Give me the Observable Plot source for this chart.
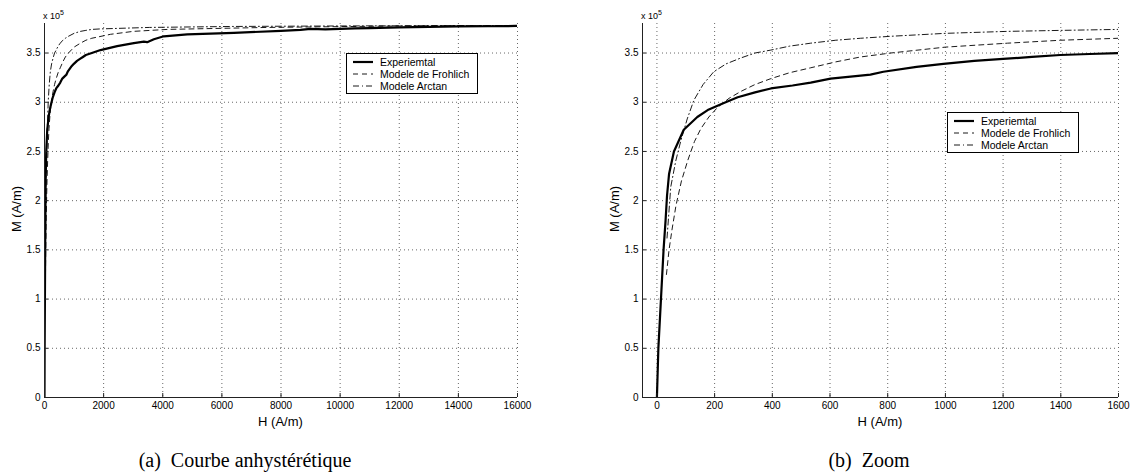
<!DOCTYPE html>
<html>
<head>
<meta charset="utf-8">
<script src="https://cdn.jsdelivr.net/npm/d3@7"></script>
<script src="https://cdn.jsdelivr.net/npm/@observablehq/plot@0.6"></script>
<style>
  body { margin: 0; background: #fff; }
  #wrap { position: relative; width: 1130px; height: 475px; background: #fff; font-family: "Liberation Sans", Arial, sans-serif; color: #000; }
  .abs { position: absolute; white-space: nowrap; }
  .ylab { font-size: 13px; transform: translate(-50%, -50%) rotate(-90deg); }
  .xlab { font-size: 13px; transform: translate(-50%, -50%); }
  .mult { font-size: 9px; }
  .mult sup { font-size: 7px; vertical-align: 4px; }
  .cap { font-family: "Liberation Serif", "Times New Roman", serif; font-size: 20px; transform: translateX(-50%); }
  .legend { border: 1px solid #000; background: #fff; box-sizing: border-box; font-size: 10.5px; padding-top: 2px; }
  .legend .row { display: flex; align-items: center; height: 12px; }
  .legend svg { margin-left: 6px; margin-right: 7px; }
</style>
</head>
<body>
<div id="wrap">
  <div id="pa" class="abs" style="left:0;top:0"></div>
  <div id="pb" class="abs" style="left:565px;top:0"></div>
</div>
<script>
// ---- Data (M in units of 1e5 A/m, H in A/m) ----
const expH = [0, 5, 14, 23, 30, 35, 42, 59, 93, 140, 176, 230, 280, 340, 395, 470, 533, 602, 706, 740, 785, 900, 993, 1100, 1200, 1300, 1398, 1500, 1600, 1895, 2458, 3022, 3360, 3473, 3700, 4036, 4827, 6405, 8000, 8660, 9000, 9500, 10000, 10500, 11000, 12000, 13000, 14000, 15000, 16000];
const expM = [0, 0.5, 1.0, 1.5, 1.8, 2.05, 2.27, 2.5, 2.72, 2.85, 2.92, 2.99, 3.05, 3.10, 3.14, 3.17, 3.20, 3.24, 3.27, 3.28, 3.31, 3.36, 3.39, 3.42, 3.44, 3.46, 3.48, 3.49, 3.50, 3.53, 3.57, 3.60, 3.615, 3.61, 3.64, 3.67, 3.69, 3.705, 3.725, 3.735, 3.745, 3.74, 3.745, 3.75, 3.752, 3.76, 3.765, 3.77, 3.772, 3.775];

const frohH = [33, 42, 52, 66, 85, 107, 130, 152, 180, 211, 250, 291, 340, 395, 460, 533, 620, 706, 810, 1000, 1215, 1400, 1600, 2230, 3000, 4160, 7530, 12000, 16000];
const frohM = [1.25, 1.5, 1.7, 1.95, 2.2, 2.41, 2.6, 2.73, 2.85, 2.95, 3.04, 3.11, 3.18, 3.24, 3.30, 3.35, 3.41, 3.46, 3.50, 3.56, 3.60, 3.63, 3.65, 3.69, 3.72, 3.74, 3.76, 3.775, 3.78];

const atanH = [35, 48, 65, 83, 105, 128, 160, 197, 240, 291, 340, 395, 460, 533, 620, 706, 810, 1000, 1215, 1400, 1600, 1890, 3550, 6370, 10000, 16000];
const atanM = [1.62, 2.14, 2.4, 2.61, 2.83, 3.02, 3.18, 3.31, 3.39, 3.45, 3.50, 3.53, 3.57, 3.60, 3.63, 3.65, 3.67, 3.70, 3.72, 3.73, 3.74, 3.745, 3.76, 3.77, 3.775, 3.78];

const yTicks = [0, 0.5, 1, 1.5, 2, 2.5, 3, 3.5];
const yDomain = [0, 3.8];
const xTicksA = [0, 2000, 4000, 6000, 8000, 10000, 12000, 14000, 16000];
const xDomainA = [0, 16000];
const xTicksB = [0, 200, 400, 600, 800, 1000, 1200, 1400, 1600];
const xDomainB = [-50, 1600];

const seriesNames = ["Experiemtal", "Modele de Frohlich", "Modele Arctan"];
const axisLabelX = "H (A/m)";
const axisLabelY = "M (A/m)";
const captions = ["(a)\u00a0 Courbe anhystérétique", "(b)\u00a0 Zoom"];

const rows = (hs, ms) => hs.map((h, i) => ({H: h, M: ms[i]}));
const expData = rows(expH, expM);
const frohData = rows(frohH, frohM);
const atanData = rows(atanH, atanM);

const styles = [
  {stroke: "#000", strokeWidth: 2.2, strokeDasharray: null},
  {stroke: "#000", strokeWidth: 0.9, strokeDasharray: "5,4"},
  {stroke: "#000", strokeWidth: 0.9, strokeDasharray: "6,3,1,3"}
];

function panel(xDomain, xTicks, mLeft, mRight) {
  const W = 565, H = 430, mTop = 23, mBottom = 33;
  const innerW = W - mLeft - mRight, innerH = H - mTop - mBottom;
  const gridStyle = {stroke: "#000", strokeOpacity: 0.75, strokeWidth: 0.8, strokeDasharray: "1,3"};
  return Plot.plot({
    width: W, height: H,
    marginLeft: mLeft, marginRight: mRight, marginTop: mTop, marginBottom: mBottom,
    style: {fontFamily: "Liberation Sans, Arial, sans-serif", fontSize: "10px", background: "transparent", overflow: "visible"},
    x: {domain: xDomain},
    y: {domain: yDomain},
    marks: [
      Plot.gridX(xTicks, gridStyle),
      Plot.gridY(yTicks, gridStyle),
      Plot.line(frohData, {x: "H", y: "M", ...styles[1], clip: true}),
      Plot.line(atanData, {x: "H", y: "M", ...styles[2], clip: true}),
      Plot.line(expData, {x: "H", y: "M", ...styles[0], strokeLinejoin: "round", clip: true}),
      Plot.ruleY([yDomain[0]], {stroke: "#222", strokeWidth: 1}),
      Plot.ruleX([xDomain[0]], {stroke: "#222", strokeWidth: 1}),
      Plot.tickX(xTicks, {x: d => d, insetTop: innerH - 4, stroke: "#222"}),
      Plot.tickY(yTicks, {y: d => d, insetRight: innerW - 4, stroke: "#222"}),
      Plot.axisX({ticks: xTicks, tickSize: 0, tickPadding: 4, label: null, tickFormat: d3.format("d"), fontSize: 10}),
      Plot.axisY({ticks: yTicks, tickSize: 0, tickPadding: 4, label: null, tickFormat: d3.format("~g"), fontSize: 10})
    ]
  });
}

document.getElementById("pa").appendChild(panel(xDomainA, xTicksA, 44, 48));
document.getElementById("pb").appendChild(panel(xDomainB, xTicksB, 77, 12));

const wrap = document.getElementById("wrap");
function addDiv(cls, html, left, top, extra = "") {
  const d = document.createElement("div");
  d.className = "abs " + cls;
  d.style.cssText = `left:${left}px;top:${top}px;${extra}`;
  d.innerHTML = html;
  wrap.appendChild(d);
  return d;
}
// axis labels and multipliers
[[0, 44, 517], [565, 642, 1118]].forEach(([off, x0, x1]) => {
  addDiv("ylab", axisLabelY, x0 - 28, 209);
  addDiv("xlab", axisLabelX, (x0 + x1) / 2, 421);
  addDiv("mult", "x 10<sup>5</sup>", x0 - 1, 9);
});
// captions
addDiv("cap", captions[0], 245, 449);
addDiv("cap", captions[1], 869, 449);

// legends
function legend(left, top) {
  const d = addDiv("legend", "", left, top, "width:132px;height:41px;");
  seriesNames.forEach((name, i) => {
    const s = styles[i];
    d.insertAdjacentHTML("beforeend",
      `<div class="row"><svg width="20" height="6"><line x1="0" y1="3" x2="20" y2="3" stroke="${s.stroke}" stroke-width="${s.strokeWidth}" ${s.strokeDasharray ? `stroke-dasharray="${s.strokeDasharray}"` : ""}/></svg><span>${name}</span></div>`);
  });
}
legend(346, 53);
legend(947, 112);
</script>
</body>
</html>
